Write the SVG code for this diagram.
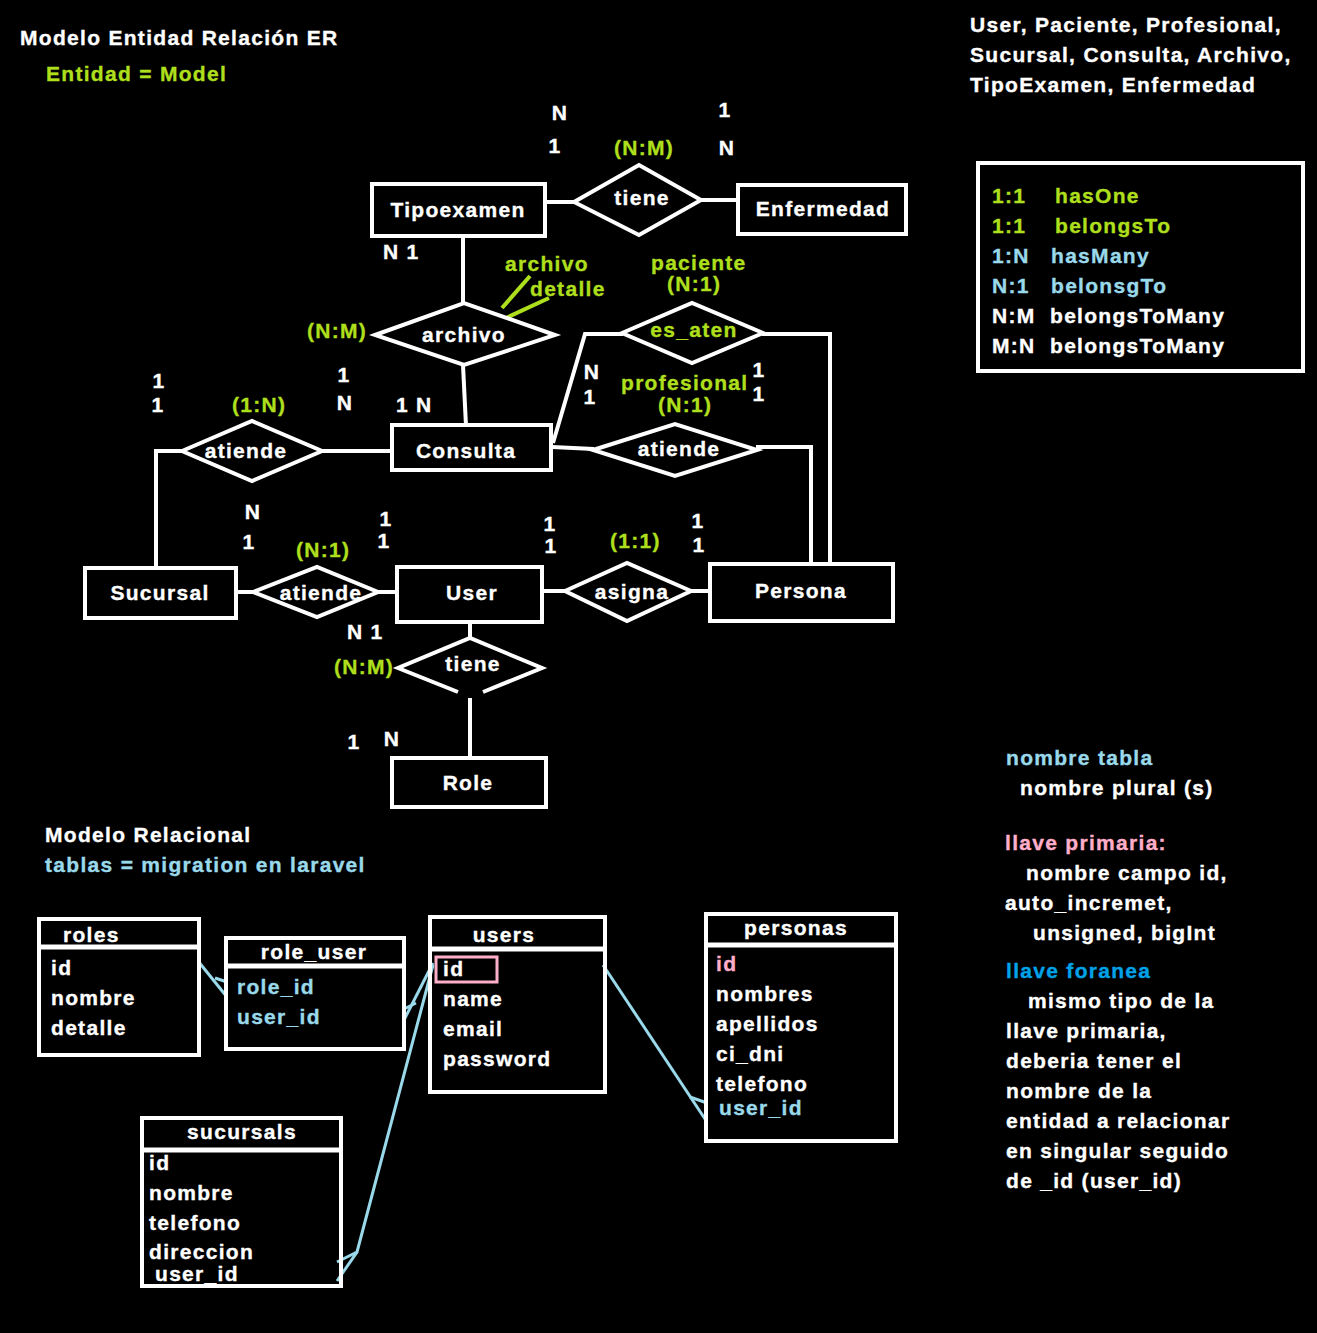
<svg xmlns="http://www.w3.org/2000/svg" width="1317" height="1333" viewBox="0 0 1317 1333">
<style>
text{font-family:"Liberation Sans",Arial,sans-serif;font-weight:bold;font-size:21px;letter-spacing:1.3px;fill:#fff;stroke:#fff;stroke-width:0.35px}
.m{text-anchor:middle}
.g{fill:#aedf1c;stroke:#aedf1c}
.b{fill:#99d9ea;stroke:#99d9ea}
.p{fill:#ffaec9;stroke:#ffaec9}
.d{fill:#00a2e8;stroke:#00a2e8}
.box{fill:#000;stroke:#fff;stroke-width:4}
.dia{fill:#000;stroke:#fff;stroke-width:4;stroke-linejoin:miter}
.ln{fill:none;stroke:#fff;stroke-width:4}
.fk{fill:none;stroke:#99d9ea;stroke-width:3}
.gl{fill:none;stroke:#aedf1c;stroke-width:4}
</style>
<rect x="0" y="0" width="1317" height="1333" fill="#000"/>

<g id="titles">
<text x="20" y="45">Modelo Entidad Relación ER</text>
<text x="46" y="81" class="g">Entidad = Model</text>
<text x="970" y="32">User, Paciente, Profesional,</text>
<text x="970" y="62">Sucursal, Consulta, Archivo,</text>
<text x="970" y="92">TipoExamen, Enfermedad</text>
<text x="45" y="842">Modelo Relacional</text>
<text x="45" y="872" class="b">tablas = migration en laravel</text>
</g>

<g id="connectors">
<polyline class="ln" points="545,202 575,202"/>
<polyline class="ln" points="700,200 738,200"/>
<polyline class="ln" points="463,237 463,303"/>
<polyline class="ln" points="463,365 466,426"/>
<polyline class="ln" points="322,451 392,451"/>
<polyline class="ln" points="183,451 156,451 156,568"/>
<polyline class="ln" points="236,592 254,592"/>
<polyline class="ln" points="377,592 397,592"/>
<polyline class="ln" points="542,591 566,591"/>
<polyline class="ln" points="690,591 710,591"/>
<polyline class="ln" points="470,622 470,639"/>
<polyline class="ln" points="470,698 470,758"/>
<polyline class="ln" points="552,447 594,449"/>
<polyline class="ln" points="756,447 811,447 811,564"/>
<polyline class="ln" points="553,443 585,334 623,334"/>
<polyline class="ln" points="762,334 830,334 830,564"/>
<polyline class="gl" points="530,276 502,308"/>
<polyline class="gl" points="549,298 506,318"/>
</g>

<g id="n-tipoexamen"><rect class="box" x="372" y="184" width="173" height="52"/><text class="m" x="458" y="217">Tipoexamen</text></g>
<g id="n-enfermedad"><rect class="box" x="738" y="185" width="168" height="49"/><text class="m" x="823" y="216">Enfermedad</text></g>
<g id="n-tiene-top"><polygon class="dia" points="574,202 639,165 701,200 639,235"/><text class="m" x="642" y="205">tiene</text></g>
<g id="n-archivo"><polygon class="dia" points="375,335 464,303 555,335 464,365"/><text class="m" x="464" y="342">archivo</text></g>
<g id="n-consulta"><rect class="box" x="392" y="425" width="159" height="45"/><text class="m" x="466" y="458">Consulta</text></g>
<g id="n-atiende-left"><polygon class="dia" points="182,451 252,421 322,451 252,481"/><text class="m" x="246" y="458">atiende</text></g>
<g id="n-es-aten"><polygon class="dia" points="622,333 692,303 763,333 692,363"/><text class="m g" x="694" y="337">es_aten</text></g>
<g id="n-atiende-right"><polygon class="dia" points="593,450 675,424 757,450 675,476"/><text class="m" x="679" y="456">atiende</text></g>
<g id="n-sucursal"><rect class="box" x="85" y="568" width="151" height="50"/><text class="m" x="160" y="600">Sucursal</text></g>
<g id="n-atiende-bottom"><polygon class="dia" points="253,592 317,567 378,592 317,617"/><text class="m" x="321" y="600">atiende</text></g>
<g id="n-user"><rect class="box" x="397" y="567" width="145" height="55"/><text class="m" x="472" y="600">User</text></g>
<g id="n-asigna"><polygon class="dia" points="565,591 627,563 691,591 627,621"/><text class="m" x="632" y="599">asigna</text></g>
<g id="n-persona"><rect class="box" x="710" y="564" width="183" height="57"/><text class="m" x="801" y="598">Persona</text></g>
<g id="n-tiene-bottom"><polyline class="dia" points="458,692 398,668 470,638 542,668 483,692"/><text class="m" x="473" y="671">tiene</text></g>
<g id="n-role"><rect class="box" x="392" y="758" width="154" height="49"/><text class="m" x="468" y="790">Role</text></g>

<g id="labels">
<text class="m" x="560" y="120">N</text>
<text class="m" x="555" y="153">1</text>
<text class="m g" x="644" y="155">(N:M)</text>
<text class="m" x="725" y="117">1</text>
<text class="m" x="727" y="155">N</text>
<text x="383" y="259">N 1</text>
<text x="505" y="271" class="g">archivo</text>
<text x="530" y="296" class="g">detalle</text>
<text x="651" y="270" class="g">paciente</text>
<text x="667" y="291" class="g">(N:1)</text>
<text x="307" y="338" class="g">(N:M)</text>
<text class="m" x="592" y="379">N</text>
<text class="m" x="590" y="404">1</text>
<text x="621" y="390" class="g">profesional</text>
<text x="658" y="412" class="g">(N:1)</text>
<text class="m" x="759" y="377">1</text>
<text class="m" x="759" y="401">1</text>
<text class="m" x="159" y="388">1</text>
<text class="m" x="158" y="412">1</text>
<text x="232" y="412" class="g">(1:N)</text>
<text class="m" x="344" y="382">1</text>
<text class="m" x="345" y="410">N</text>
<text x="396" y="412">1 N</text>
<text class="m" x="253" y="519">N</text>
<text class="m" x="249" y="549">1</text>
<text x="296" y="557" class="g">(N:1)</text>
<text class="m" x="386" y="526">1</text>
<text class="m" x="384" y="548">1</text>
<text class="m" x="550" y="531">1</text>
<text class="m" x="551" y="553">1</text>
<text x="610" y="548" class="g">(1:1)</text>
<text class="m" x="698" y="528">1</text>
<text class="m" x="699" y="552">1</text>
<text x="347" y="639">N 1</text>
<text x="334" y="674" class="g">(N:M)</text>
<text class="m" x="354" y="749">1</text>
<text class="m" x="392" y="746">N</text>
</g>

<g id="legend">
<rect x="978" y="163" width="325" height="208" fill="none" stroke="#fff" stroke-width="4"/>
<text x="992" y="203" class="g">1:1</text><text x="1055" y="203" class="g">hasOne</text>
<text x="992" y="233" class="g">1:1</text><text x="1055" y="233" class="g">belongsTo</text>
<text x="992" y="263" class="b">1:N</text><text x="1051" y="263" class="b">hasMany</text>
<text x="992" y="293" class="b">N:1</text><text x="1051" y="293" class="b">belonsgTo</text>
<text x="992" y="323">N:M</text><text x="1050" y="323">belongsToMany</text>
<text x="992" y="353">M:N</text><text x="1050" y="353">belongsToMany</text>
</g>

<g id="notes">
<text x="1006" y="765" class="b">nombre tabla</text>
<text x="1020" y="795">nombre plural (s)</text>
<text x="1005" y="850" class="p">llave primaria:</text>
<text x="1026" y="880">nombre campo id,</text>
<text x="1005" y="910">auto_incremet,</text>
<text x="1033" y="940">unsigned, bigInt</text>
<text x="1006" y="978" class="d">llave foranea</text>
<text x="1028" y="1008">mismo tipo de la</text>
<text x="1006" y="1038">llave primaria,</text>
<text x="1006" y="1068">deberia tener el</text>
<text x="1006" y="1098">nombre de la</text>
<text x="1006" y="1128">entidad a relacionar</text>
<text x="1006" y="1158">en singular seguido</text>
<text x="1006" y="1188">de _id (user_id)</text>
</g>

<g id="fk-connectors">
<polyline class="fk" points="198,961 227,997"/>
<polyline class="fk" points="215,978 227,982"/>
<polyline class="fk" points="404,1020 433,963"/>
<polyline class="fk" points="404,1009 416,1003"/>
<polyline class="fk" points="433,965 357,1252 337,1281"/>
<polyline class="fk" points="357,1252 337,1262"/>
<polyline class="fk" points="603,965 707,1122"/>
<polyline class="fk" points="690,1097 707,1103"/>
</g>

<g id="t-roles">
<rect x="39" y="919" width="160" height="136" fill="none" stroke="#fff" stroke-width="4"/>
<line x1="39" y1="947" x2="199" y2="947" stroke="#fff" stroke-width="5"/>
<text x="63" y="942">roles</text>
<text x="51" y="975">id</text>
<text x="51" y="1005">nombre</text>
<text x="51" y="1035">detalle</text>
</g>
<g id="t-role_user">
<rect x="226" y="938" width="178" height="111" fill="none" stroke="#fff" stroke-width="4"/>
<line x1="226" y1="966" x2="404" y2="966" stroke="#fff" stroke-width="5"/>
<text class="m" x="314" y="959">role_user</text>
<text x="237" y="994" class="b">role_id</text>
<text x="237" y="1024" class="b">user_id</text>
</g>
<g id="t-users">
<rect x="430" y="917" width="175" height="175" fill="none" stroke="#fff" stroke-width="4"/>
<line x1="430" y1="949" x2="605" y2="949" stroke="#fff" stroke-width="5"/>
<text class="m" x="504" y="942">users</text>
<rect x="436" y="957" width="61" height="25" fill="none" stroke="#ffaec9" stroke-width="3"/>
<text x="443" y="976">id</text>
<text x="443" y="1006">name</text>
<text x="443" y="1036">email</text>
<text x="443" y="1066">password</text>
</g>
<g id="t-personas">
<rect x="706" y="914" width="190" height="227" fill="none" stroke="#fff" stroke-width="4"/>
<line x1="706" y1="945" x2="896" y2="945" stroke="#fff" stroke-width="5"/>
<text class="m" x="796" y="935">personas</text>
<text x="716" y="971" class="p">id</text>
<text x="716" y="1001">nombres</text>
<text x="716" y="1031">apellidos</text>
<text x="716" y="1061">ci_dni</text>
<text x="716" y="1091">telefono</text>
<text x="719" y="1115" class="b">user_id</text>
</g>
<g id="t-sucursals">
<rect x="142" y="1118" width="199" height="168" fill="none" stroke="#fff" stroke-width="4"/>
<line x1="142" y1="1150" x2="341" y2="1150" stroke="#fff" stroke-width="5"/>
<text class="m" x="242" y="1139">sucursals</text>
<text x="149" y="1170">id</text>
<text x="149" y="1200">nombre</text>
<text x="149" y="1230">telefono</text>
<text x="149" y="1259">direccion</text>
<text x="155" y="1281">user_id</text>
</g>
</svg>
